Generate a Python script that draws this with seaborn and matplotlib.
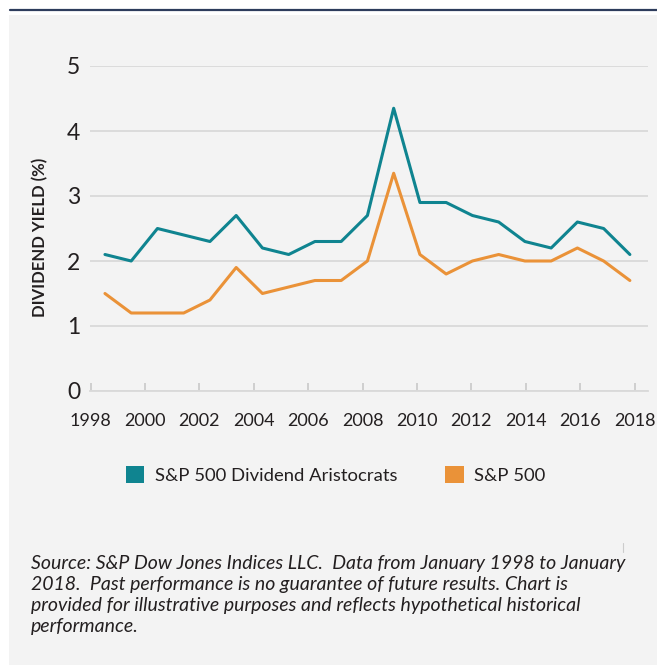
"""Dividend yield: S&P 500 Dividend Aristocrats vs S&P 500, 1998-2018."""

import matplotlib

matplotlib.use("Agg")

import matplotlib.pyplot as plt
import pandas as pd
import seaborn as sns
from matplotlib.lines import Line2D
from matplotlib.patches import Patch, Rectangle

YEARS = list(range(1998, 2019))
ARISTOCRATS = [2.1, 2.0, 2.5, 2.4, 2.3, 2.7, 2.2, 2.1, 2.3, 2.3, 2.7,
               4.35, 2.9, 2.9, 2.7, 2.6, 2.3, 2.2, 2.6, 2.5, 2.1]
SP500 = [1.5, 1.2, 1.2, 1.2, 1.4, 1.9, 1.5, 1.6, 1.7, 1.7, 2.0,
         3.35, 2.1, 1.8, 2.0, 2.1, 2.0, 2.0, 2.2, 2.0, 1.7]
SERIES = ["S&P 500 Dividend Aristocrats", "S&P 500"]
Y_TICKS = [0, 1, 2, 3, 4, 5]
X_TICK_LABELS = ["1998", "2000", "2002", "2004", "2006", "2008",
                 "2010", "2012", "2014", "2016", "2018"]
SOURCE = ("Source: S&P Dow Jones Indices LLC.  Data from January 1998 to January\n"
          "2018.  Past performance is no guarantee of future results. Chart is\n"
          "provided for illustrative purposes and reflects hypothetical historical\n"
          "performance.")

TEAL = "#0f8490"
ORANGE = "#ea9238"
GRID = "#d9d9d9"
TEXT = "#231f20"
W, H = 657, 665

df = pd.DataFrame({
    "year": YEARS * 2,
    "yield": ARISTOCRATS + SP500,
    "index": [SERIES[0]] * len(YEARS) + [SERIES[1]] * len(YEARS),
})

sns.set_theme(style="white")
plt.rcParams["font.family"] = ["Lato", "DejaVu Sans"]

fig = plt.figure(figsize=(W / 100, H / 100), dpi=100)
fig.patch.set_facecolor("white")
fig.add_artist(Rectangle((9 / W, 0), 1 - 9 / W, 1 - 15 / H, transform=fig.transFigure,
                         facecolor="#f3f3f3", edgecolor="none", zorder=0))
fig.add_artist(Line2D([10 / W, 1], [1 - 9.5 / H] * 2, color="#2d3c5c", lw=1.6))
fig.add_artist(Line2D([623 / W] * 2, [1 - 543 / H, 1 - 552 / H], color="#cccccc", lw=0.8))

ax = fig.add_axes([90 / W, 1 - 391 / H, (648 - 90) / W, (391 - 66) / H])
ax.set_facecolor("none")

sns.lineplot(data=df, x="year", y="yield", hue="index", palette=[TEAL, ORANGE],
             linewidth=2.2, legend=False, ax=ax, clip_on=False)

ax.set_xlim(1997.43, 2018.69)
ax.set_ylim(0, 5)
ax.set_yticks(Y_TICKS)
ax.set_yticklabels([str(t) for t in Y_TICKS], fontsize=16.5, color=TEXT)
first_tick, last_tick = 1997.455, 2018.18
step = (last_tick - first_tick) / (len(X_TICK_LABELS) - 1)
ax.set_xticks([first_tick + i * step for i in range(len(X_TICK_LABELS))])
ax.set_xticklabels(X_TICK_LABELS, fontsize=13, color=TEXT)
ax.set_xlabel("")
ax.set_ylabel("")

ax.yaxis.grid(True, color=GRID, lw=1.3)
ax.xaxis.grid(False)
ax.set_axisbelow(True)
for side in ["top", "right", "left"]:
    ax.spines[side].set_visible(False)
ax.spines["bottom"].set_color(GRID)
ax.spines["bottom"].set_linewidth(1.3)
ax.tick_params(axis="y", length=0, pad=7)
ax.tick_params(axis="x", direction="in", length=5.5, width=1.2, color="#c8c8c8", pad=16,
               bottom=True)

fig.text(40.5 / W, 1 - 237 / H, "DIVIDEND YIELD (%)", rotation=90, ha="center", va="center",
         fontsize=12, fontweight="bold", color=TEXT)

handles = [Patch(facecolor=TEAL, edgecolor="none"), Patch(facecolor=ORANGE, edgecolor="none")]
fig.legend(handles, SERIES, loc="center left", bbox_to_anchor=(126 / W, 1 - 475 / H),
           ncol=2, frameon=False, fontsize=13.3, handlelength=1.0, handleheight=1.0,
           handletextpad=0.55, columnspacing=2.6, borderpad=0, borderaxespad=0,
           labelcolor=TEXT)

fig.text(31 / W, 1 - 555 / H, SOURCE, ha="left", va="top", fontsize=14, style="italic",
         color=TEXT, linespacing=1.29)

fig.savefig("out.png", dpi=100)
